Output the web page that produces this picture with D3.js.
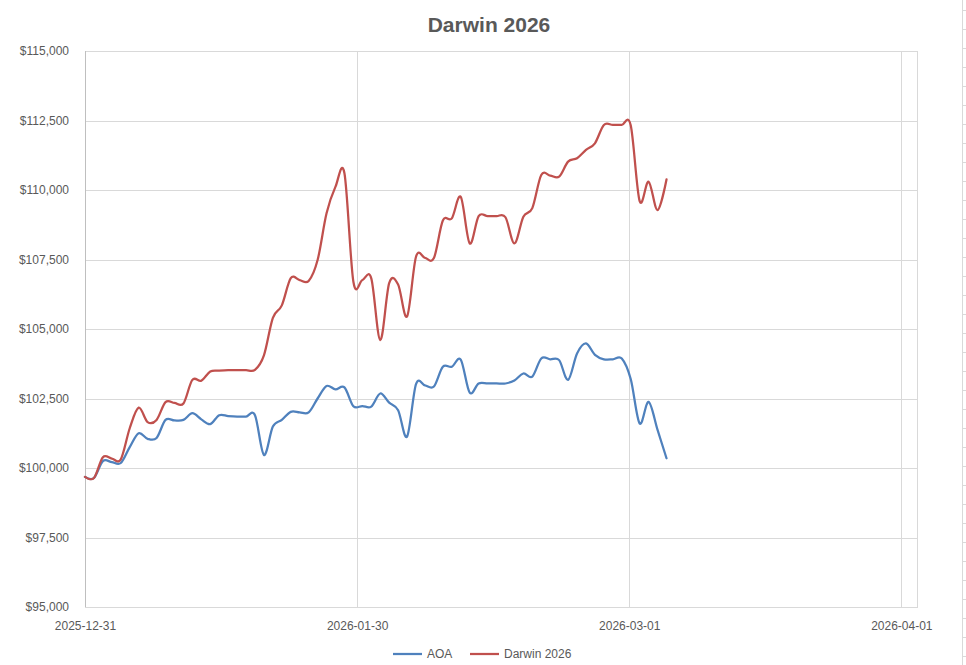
<!DOCTYPE html>
<html>
<head>
<meta charset="utf-8">
<title>Darwin 2026</title>
<script src="https://cdn.jsdelivr.net/npm/d3@7"></script>
<style>
  html, body { margin: 0; padding: 0; background: #fff; }
  svg { display: block; font-family: 'Liberation Sans', Arial, sans-serif; }
</style>
</head>
<body>
<svg id="chart" width="966" height="665"></svg>
<script>
// one value per calendar day, starting 2025-12-31 (weekends repeat Friday's close)
const startDate = '2025-12-31';
const seriesNames = ['AOA', 'Darwin 2026'];

const aoa = [
  99680, 99640, 100250, 100210, 100180, 100750, 101250, 101050, 101080, 101730,
  101710, 101730, 101970, 101750, 101580, 101900, 101870, 101850, 101850, 101900,
  100470, 101490, 101730, 102020, 102000, 102000, 102500, 102950, 102830, 102900,
  102220, 102230, 102210, 102680, 102350, 102080, 101130, 103020, 102970, 102930,
  103640, 103640, 103900, 102710, 103040, 103040, 103040, 103040, 103150, 103400,
  103290, 103940, 103910, 103880, 103170, 104120, 104480, 104070, 103910, 103910,
  103940, 103200, 101600, 102380, 101370, 100350,
];

const darwin = [
  99680, 99640, 100390, 100340, 100310, 101430, 102170, 101650, 101730, 102370,
  102340, 102320, 103170, 103140, 103470, 103500, 103520, 103520, 103520, 103530,
  104050, 105400, 105850, 106830, 106760, 106730, 107480, 109160, 110120, 110600,
  106700, 106760, 106820, 104600, 106650, 106600, 105450, 107600, 107560, 107550,
  108900, 108980, 109750, 108080, 109060, 109060, 109060, 109020, 108080, 109040,
  109350, 110540, 110520, 110480, 111020, 111140, 111440, 111680, 112340, 112340,
  112340, 112330, 109600, 110300, 109280, 110380,
];

const yTicks = [95000, 97500, 100000, 102500, 105000, 107500, 110000, 112500, 115000];
const xTickLabels = ['2025-12-31', '2026-01-30', '2026-03-01', '2026-04-01'];
const xTickStepDays = 365 / 12;
const xMaxDays = 93;

const COLORS = ['#4f81bd', '#c0504d'];
const TEXT = '#595959';
const GRID = '#d9d9d9';

const margin = { top: 51, right: 49, bottom: 58, left: 85 };
const width = 966;
const height = 665;

const svg = d3.select('#chart');

const x = d3.scaleLinear().domain([0, xMaxDays]).range([margin.left, width - margin.right]);
const y = d3.scaleLinear().domain([95000, 115000]).range([height - margin.bottom, margin.top]);

const fmt = d3.format('$,');

// title
svg.append('text')
  .attr('x', 489)
  .attr('y', 32)
  .attr('text-anchor', 'middle')
  .attr('fill', TEXT)
  .attr('font-size', 21)
  .attr('font-weight', 'bold')
  .text('Darwin 2026');

// horizontal grid + y labels
const yAxis = d3.axisLeft(y).tickValues(yTicks).tickFormat(fmt).tickSize(-(x.range()[1] - x.range()[0])).tickPadding(16);
const yG = svg.append('g').attr('transform', `translate(${margin.left},0)`).call(yAxis);
yG.select('.domain').remove();
yG.selectAll('.tick line').attr('stroke', GRID).attr('shape-rendering', 'crispEdges');
yG.selectAll('.tick text').attr('fill', TEXT).attr('font-size', 12).attr('font-family', 'Liberation Sans, Arial, sans-serif');

// vertical grid + x labels
const xTickValues = xTickLabels.map((_, i) => i * xTickStepDays);
const xAxis = d3.axisBottom(x)
  .tickValues(xTickValues)
  .tickFormat((_, i) => xTickLabels[i])
  .tickSize(-(y.range()[0] - y.range()[1]))
  .tickPadding(14);
const xG = svg.append('g').attr('transform', `translate(0,${y.range()[0]})`).call(xAxis);
xG.select('.domain').attr('stroke', GRID).attr('shape-rendering', 'crispEdges');
xG.selectAll('.tick line').attr('stroke', GRID).attr('shape-rendering', 'crispEdges');
xG.selectAll('.tick text').attr('fill', TEXT).attr('font-size', 12).attr('font-family', 'Liberation Sans, Arial, sans-serif');

// left axis line
svg.append('line')
  .attr('x1', margin.left).attr('x2', margin.left)
  .attr('y1', y.range()[1]).attr('y2', y.range()[0])
  .attr('stroke', '#bfbfbf')
  .attr('shape-rendering', 'crispEdges');

// series
const line = d3.line()
  .x((d, i) => x(i))
  .y((d) => y(d))
  .curve(d3.curveCardinal.tension(0));

[aoa, darwin].forEach((values, k) => {
  svg.append('path')
    .datum(values)
    .attr('fill', 'none')
    .attr('stroke', COLORS[k])
    .attr('stroke-width', 2.25)
    .attr('stroke-linejoin', 'round')
    .attr('stroke-linecap', 'round')
    .attr('d', line);
});

// legend
const legend = svg.append('g').attr('class', 'legend');
const legendX = [393, 470];
seriesNames.forEach((name, k) => {
  legend.append('line')
    .attr('x1', legendX[k]).attr('x2', legendX[k] + 29)
    .attr('y1', 654).attr('y2', 654)
    .attr('stroke', COLORS[k])
    .attr('stroke-width', 2.25);
  legend.append('text')
    .attr('x', legendX[k] + 34)
    .attr('y', 658)
    .attr('fill', TEXT)
    .attr('font-size', 12)
    .text(name);
});

// neighbouring chart's edge, cut off at the right of the picture
const edge = svg.append('g').attr('stroke', GRID).attr('shape-rendering', 'crispEdges');
edge.append('line').attr('x1', 962).attr('x2', 962).attr('y1', 0).attr('y2', height);
edge.selectAll('.edge-tick')
  .data(d3.range(10, height, 19))
  .join('line')
  .attr('class', 'edge-tick')
  .attr('x1', 962).attr('x2', 966)
  .attr('y1', (d) => d).attr('y2', (d) => d);
</script>
</body>
</html>
